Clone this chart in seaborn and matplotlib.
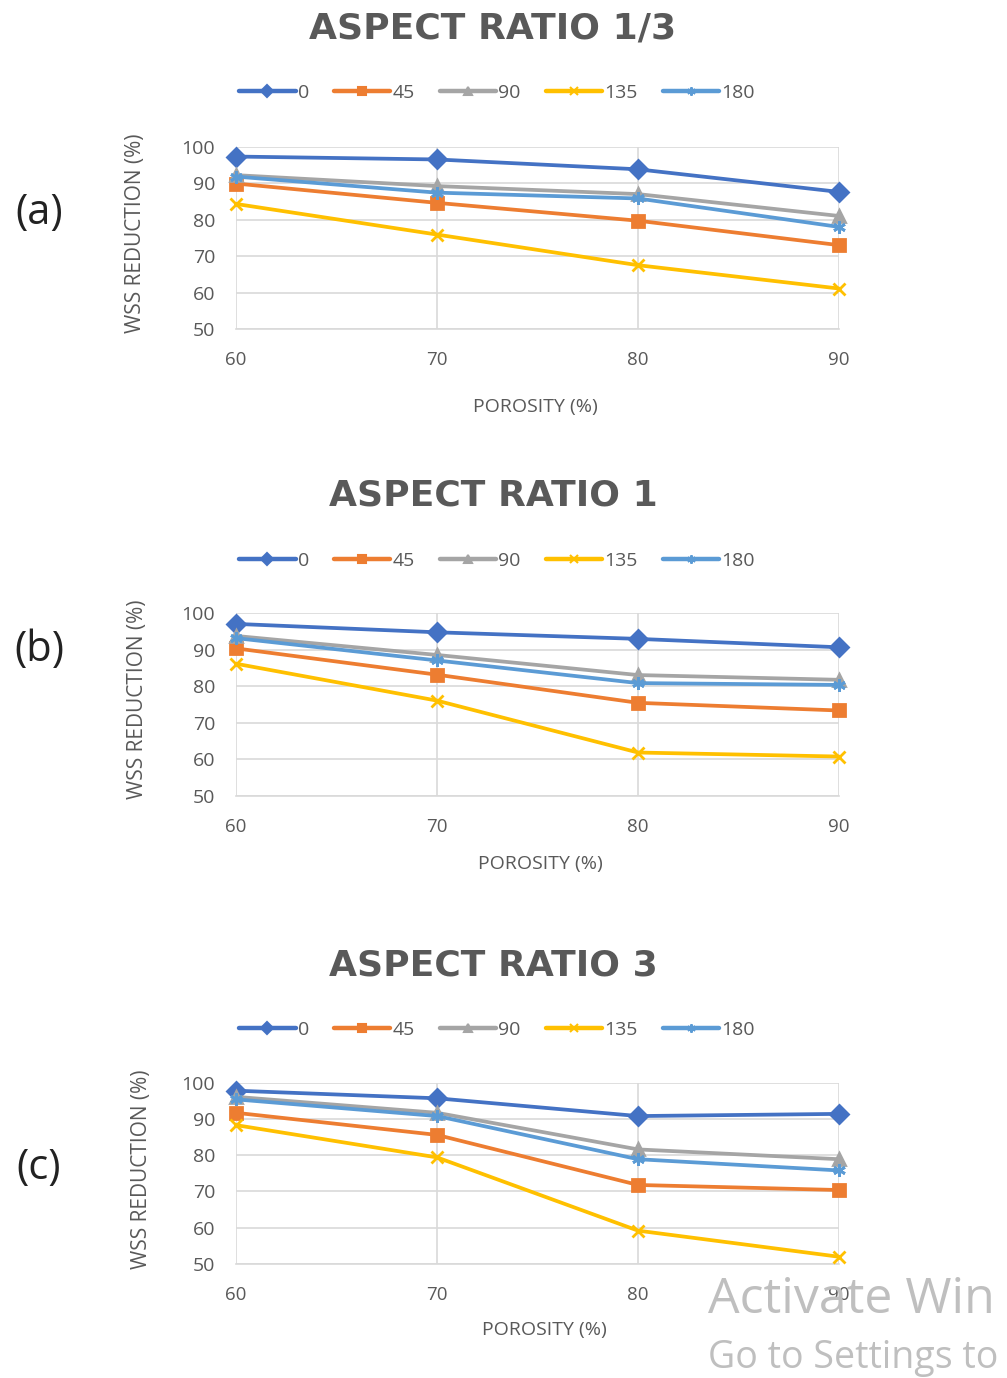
import numpy as np
import pandas as pd
import matplotlib
matplotlib.use("Agg")
import matplotlib.pyplot as plt
import seaborn as sns

porosity = [60, 70, 80, 90]
angles = ["0", "45", "90", "135", "180"]
titles = ["ASPECT RATIO 1/3", "ASPECT RATIO 1", "ASPECT RATIO 3"]
panel_tags = ["(a)", "(b)", "(c)"]
yticks = [50, 60, 70, 80, 90, 100]

# WSS reduction (%) for each angle, per aspect ratio panel
ar13 = {
    "0":   [97.3, 96.5, 93.8, 87.6],
    "45":  [89.9, 84.6, 79.7, 73.0],
    "90":  [92.2, 89.2, 87.0, 81.0],
    "135": [84.3, 75.9, 67.5, 61.1],
    "180": [91.8, 87.4, 85.8, 78.0],
}
ar1 = {
    "0":   [97.1, 94.8, 93.0, 90.7],
    "45":  [90.4, 83.2, 75.5, 73.4],
    "90":  [93.8, 88.6, 83.1, 81.8],
    "135": [86.2, 76.1, 61.9, 60.8],
    "180": [93.2, 87.1, 80.9, 80.4],
}
ar3 = {
    "0":   [97.8, 95.7, 90.8, 91.4],
    "45":  [91.7, 85.6, 71.8, 70.4],
    "90":  [96.1, 91.7, 81.6, 78.9],
    "135": [88.3, 79.4, 59.2, 52.0],
    "180": [95.4, 90.8, 78.9, 75.8],
}
panels = [ar13, ar1, ar3]

colors = {"0": "#4472C4", "45": "#ED7D31", "90": "#A5A5A5", "135": "#FFC000", "180": "#5B9BD5"}
markers = {"0": "D", "45": "s", "90": "^", "135": "x", "180": (6, 2, 0)}

sns.set_theme(style="white")
plt.rcParams["font.family"] = ["Open Sans", "DejaVu Sans"]

W, H = 1007, 1378
fig = plt.figure(figsize=(W / 100, H / 100), dpi=100)
fig.patch.set_facecolor("white")

def fx(px):
    return px / W

def fy(py):
    return 1 - py / H

layout = [
    dict(top=146.7, bot=329, title=28, leg=93, xlab=407, ylab=135, tag=213, xl=535, yc=233),
    dict(top=613.3, bot=796, title=496, leg=561, xlab=864, ylab=137, tag=650, xl=540, yc=699),
    dict(top=1082.7, bot=1264, title=965, leg=1030, xlab=1330, ylab=142, tag=1168, xl=544, yc=1169),
]
left_px, right_px = 236, 839
txt_gray = "#595959"

for i, (data, lay) in enumerate(zip(panels, layout)):
    ax = fig.add_axes([fx(left_px), fy(lay["bot"]), fx(right_px - left_px),
                       (lay["bot"] - lay["top"]) / H])
    for a in angles:
        df = pd.DataFrame({"porosity": porosity, "wss": data[a]})
        sns.lineplot(data=df, x="porosity", y="wss", color=colors[a],
                     marker=markers[a], linewidth=2.7, markersize=9,
                     markeredgewidth=2.0, markeredgecolor=colors[a],
                     ax=ax, zorder=3, clip_on=False)

    ax.set_xlim(60, 90)
    ax.set_ylim(50, 100)
    ax.set_xticks(porosity)
    ax.set_yticks(yticks)
    ax.set_xticklabels([str(p) for p in porosity], fontsize=13.5, color=txt_gray)
    ax.set_yticklabels([str(t) for t in yticks], fontsize=14, color=txt_gray)
    ax.tick_params(axis="x", length=0, pad=16)
    ax.tick_params(axis="y", length=0, pad=15)
    ax.grid(True, color="#D9D9D9", linewidth=1.2)
    for s in ["top", "right", "left"]:
        ax.spines[s].set_visible(False)
    ax.spines["bottom"].set_color("#D9D9D9")
    ax.spines["bottom"].set_linewidth(1.2)
    ax.set_xlabel("")
    ax.set_ylabel("")

    fig.text(fx(lay["xl"]), fy(lay["xlab"]), "POROSITY (%)", ha="center", va="center",
             fontsize=14, color=txt_gray)
    fig.text(fx(lay["ylab"]), fy(lay["yc"]), "WSS REDUCTION (%)",
             ha="center", va="center", rotation=90, fontsize=15, color=txt_gray)
    fig.text(fx(493), fy(lay["title"]), titles[i], ha="center", va="center",
             fontsize=26, fontweight="bold", color=txt_gray,
             family=["DejaVu Sans"])
    fig.text(fx(39), fy(lay["tag"]), panel_tags[i], ha="center", va="center",
             fontsize=30, color="#222222")

    handles = [plt.Line2D([], [], color=colors[a], marker=markers[a], linewidth=3.2,
                          markersize=6, markeredgewidth=1.5,
                          markeredgecolor=colors[a]) for a in angles]
    fig.legend(handles, angles, loc="center", bbox_to_anchor=(fx(497), fy(lay["leg"])),
               ncol=5, frameon=False, fontsize=14, handlelength=2.9,
               handletextpad=0.1, columnspacing=1.3, labelcolor=txt_gray)

fig.text(fx(708), fy(1300), "Activate Win", ha="left", va="center",
         fontsize=36, color="#BFBFBF")
fig.text(fx(708), fy(1358), "Go to Settings to", ha="left", va="center",
         fontsize=27, color="#BFBFBF")

fig.savefig("out.png", dpi=100, facecolor="white")
